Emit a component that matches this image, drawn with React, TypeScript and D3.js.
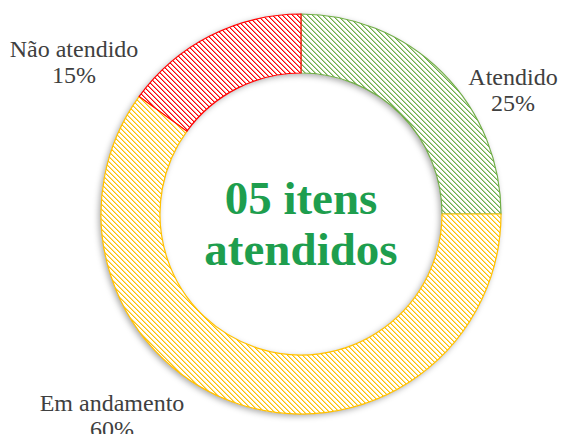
import React from "react";
import * as d3 from "d3";

const categories = ["Atendido", "Em andamento", "Não atendido"];
const values = [25, 60, 15];
const colors = ["#70AD47", "#FFC000", "#FF0000"];
const centerLines = ["05 itens", "atendidos"];

const W = 561, H = 434;
const cx = 301, cy = 214, R = 200, r = 141;

const labelPos: Record<string, [number, number]> = {
  "Atendido": [513, 85],
  "Em andamento": [112, 411],
  "Não atendido": [74, 57],
};

const P = 5;
const cells: [number, number, number][] = [];
for (let y = 0; y < P; y++) {
  for (let x = 0; x < P; x++) {
    const k = (((x - y) % P) + P) % P;
    if (k === 0) cells.push([x, y, 1]);
    else if (k === 1) cells.push([x, y, 0.5]);
  }
}

export default function App() {
  const pie = d3.pie<number>().sort(null).value((d) => d)(values);
  const arc = d3.arc<d3.PieArcDatum<number>>().innerRadius(r).outerRadius(R);
  const total = d3.sum(values);
  return (
    <svg width={W} height={H} style={{ position: "absolute", left: 0, top: 0 }}>
      <defs>
        <filter id="sh" x="-20%" y="-20%" width="140%" height="140%">
          <feDropShadow dx={-2} dy={2} stdDeviation={3} floodColor="#000" floodOpacity={0.35} />
        </filter>
        {colors.map((c, i) => (
          <pattern key={i} id={`p${i}`} width={P} height={P} patternUnits="userSpaceOnUse">
            <rect width={P} height={P} fill="#fff" />
            {cells.map(([x, y, o], j) => (
              <rect key={j} x={x} y={y} width={1} height={1} fill={c} fillOpacity={o} />
            ))}
          </pattern>
        ))}
      </defs>
      <rect width={W} height={H} fill="#fff" />
      <g transform={`translate(${cx},${cy})`}>
        <g filter="url(#sh)">
          {pie.map((p, i) => (
            <path key={i} d={arc(p) || ""} fill="#fff" />
          ))}
        </g>
        {pie.map((p, i) => (
          <path key={"a" + i} d={arc(p) || ""} fill={`url(#p${i})`} stroke={colors[i]} strokeWidth={1.2} />
        ))}
      </g>
      <g fontFamily="Liberation Serif" fontWeight="bold" fontSize={47} fill="#1E9E4E" textAnchor="middle">
        <text x={cx} y={214}>{centerLines[0]}</text>
        <text x={cx} y={265}>{centerLines[1]}</text>
      </g>
      <g fontFamily="Liberation Serif" fontSize={24} fill="#404040" textAnchor="middle">
        {categories.map((c, i) => {
          const [x, y] = labelPos[c];
          return (
            <g key={c}>
              <text x={x} y={y}>{c}</text>
              <text x={x} y={y + 26}>{Math.round((values[i] / total) * 100)}%</text>
            </g>
          );
        })}
      </g>
    </svg>
  );
}
